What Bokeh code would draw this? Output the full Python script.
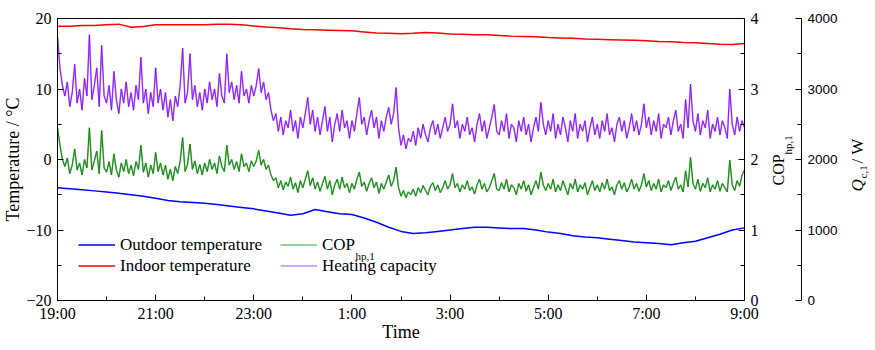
from math import pi
from bokeh.plotting import figure
from bokeh.layouts import row
from bokeh.models import Range1d, LinearAxis, FixedTicker, Legend, LegendItem, Label
from bokeh.embed import file_html
from bokeh.resources import INLINE

# ---------------- data ----------------
tick_hours = [0, 2, 4, 6, 8, 10, 12, 14]
minor_hours = [1, 3, 5, 7, 9, 11, 13]
time_labels = ["19:00", "21:00", "23:00", "1:00", "3:00", "5:00", "7:00", "9:00"]

temp_ticks = [-20, -10, 0, 10, 20]
temp_minor = [-15, -5, 5, 15]
cop_ticks = [0, 1, 2, 3, 4]
cop_minor = [0.5, 1.5, 2.5, 3.5]
q_ticks = [0, 1000, 2000, 3000, 4000]
q_minor = [500, 1500, 2500, 3500]

# temperatures every 15 min from 19:00 to 9:00 (°C)
temp_step_h = 0.25
outdoor = [-4.0, -4.15, -4.3, -4.45, -4.6, -4.8, -5.0, -5.2, -5.5, -5.8, -6.0, -6.1,
           -6.2, -6.4, -6.6, -6.8, -7.0, -7.3, -7.6, -7.9,
           -7.7, -7.1, -7.4, -7.7, -7.8, -8.3, -8.9, -9.6,
           -10.2, -10.5, -10.4, -10.2, -10.0, -9.8, -9.6, -9.6,
           -9.7, -9.8, -9.8, -10.0, -10.3, -10.5, -10.8, -11.0,
           -11.1, -11.3, -11.5, -11.7, -11.8, -11.9, -12.1, -11.8,
           -11.6, -11.1, -10.6, -10.0, -9.7]
indoor = [18.9, 18.9, 19.0, 19.0, 19.1, 19.2, 18.75, 18.85, 19.1, 19.1, 19.1, 19.1,
          19.1, 19.2, 19.2, 19.1, 18.95, 18.8, 18.7, 18.55,
          18.45, 18.4, 18.35, 18.3, 18.25, 18.1, 17.95, 17.9,
          17.85, 17.9, 18.0, 17.95, 17.8, 17.75, 17.7, 17.7,
          17.6, 17.5, 17.45, 17.4, 17.3, 17.25, 17.2, 17.1,
          17.05, 17.0, 16.95, 16.9, 16.85, 16.75, 16.7, 16.6,
          16.55, 16.45, 16.35, 16.3, 16.45]

# COP and heating capacity every 3 min from 19:00 to 9:00 (one row per hour)
fast_step_h = 3 / 60
cop = [
    2.45, 2.20, 2.00, 1.90, 2.02, 1.80, 1.92, 2.15, 1.85, 1.95, 1.78, 2.00, 1.88, 2.45, 1.85, 1.98, 2.12, 1.80, 2.41, 1.88,
    1.82, 1.97, 1.78, 2.08, 1.85, 1.75, 1.95, 1.83, 2.00, 1.80, 1.92, 1.77, 1.97, 1.86, 2.20, 1.82, 1.95, 1.75, 1.92, 1.80,
    2.10, 1.83, 1.95, 1.78, 1.92, 1.72, 1.86, 1.70, 1.90, 1.80, 1.98, 2.31, 1.83, 1.93, 2.22, 1.86, 1.98, 1.80, 1.93, 1.78,
    1.95, 1.83, 2.00, 1.86, 1.95, 1.80, 2.05, 1.90, 1.83, 2.20, 1.92, 2.00, 1.86, 1.97, 1.83, 2.08, 1.90, 1.95, 1.83, 1.98,
    1.90, 1.98, 2.13, 1.92, 2.00, 1.86, 1.92, 1.78, 1.70, 1.74, 1.60, 1.70, 1.57, 1.68, 1.62, 1.75, 1.58, 1.67, 1.53, 1.70,
    1.60, 1.72, 1.84, 1.63, 1.74, 1.58, 1.68, 1.55, 1.66, 1.76, 1.58, 1.70, 1.50, 1.64, 1.72, 1.58, 1.75, 1.60, 1.66, 1.53,
    1.66, 1.58, 1.72, 1.82, 1.62, 1.68, 1.55, 1.66, 1.74, 1.60, 1.68, 1.52, 1.66, 1.58, 1.68, 1.78, 1.62, 1.70, 1.89, 1.60,
    1.48, 1.56, 1.46, 1.54, 1.50, 1.58, 1.48, 1.60, 1.53, 1.63, 1.56, 1.50, 1.62, 1.67, 1.56, 1.64, 1.53, 1.60, 1.70, 1.58,
    1.64, 1.80, 1.60, 1.66, 1.54, 1.64, 1.58, 1.70, 1.56, 1.61, 1.51, 1.64, 1.72, 1.58, 1.66, 1.54, 1.60, 1.70, 1.80, 1.58,
    1.56, 1.67, 1.58, 1.72, 1.54, 1.64, 1.60, 1.50, 1.66, 1.58, 1.70, 1.55, 1.64, 1.50, 1.60, 1.70, 1.58, 1.82, 1.64, 1.56,
    1.66, 1.58, 1.72, 1.54, 1.64, 1.56, 1.70, 1.60, 1.50, 1.66, 1.58, 1.72, 1.54, 1.64, 1.58, 1.67, 1.50, 1.60, 1.70, 1.56,
    1.64, 1.54, 1.67, 1.58, 1.72, 1.56, 1.61, 1.50, 1.64, 1.70, 1.58, 1.67, 1.54, 1.61, 1.72, 1.58, 1.66, 1.55, 1.64, 1.80,
    1.61, 1.70, 1.56, 1.66, 1.58, 1.72, 1.54, 1.64, 1.60, 1.70, 1.56, 1.66, 1.75, 1.58, 1.64, 1.54, 1.84, 1.61, 2.03, 1.66,
    1.58, 1.72, 1.55, 1.66, 1.60, 1.74, 1.54, 1.64, 1.58, 1.70, 1.55, 1.66, 1.60, 1.54, 1.99, 1.64, 1.56, 1.70, 1.62, 1.78,
    1.85]
heating = [
    3750, 3300, 3050, 2900, 3100, 2750, 2950, 3350, 2800, 3000, 2700, 3150, 2900, 3770, 2850, 3050, 3300, 2750, 3620, 2900,
    2800, 3050, 2700, 3250, 2850, 2650, 3000, 2800, 3100, 2750, 2950, 2700, 3050, 2850, 3450, 2800, 3000, 2650, 2950, 2750,
    3300, 2800, 3000, 2700, 2950, 2600, 2850, 2550, 2900, 2750, 3050, 3580, 2800, 2950, 3500, 2850, 3050, 2750, 2950, 2700,
    3000, 2800, 3100, 2850, 3000, 2750, 3220, 2900, 2800, 3500, 2950, 3100, 2850, 3050, 2800, 3250, 2900, 3000, 2800, 3050,
    2900, 3050, 3290, 2950, 3100, 2850, 2950, 2700, 2550, 2650, 2400, 2600, 2350, 2550, 2450, 2700, 2400, 2550, 2300, 2600,
    2450, 2650, 2880, 2500, 2700, 2400, 2600, 2350, 2550, 2750, 2400, 2600, 2250, 2500, 2650, 2400, 2700, 2450, 2550, 2300,
    2550, 2400, 2650, 2880, 2500, 2600, 2350, 2550, 2700, 2450, 2600, 2300, 2550, 2400, 2600, 2740, 2500, 2650, 3020, 2450,
    2200, 2350, 2150, 2300, 2250, 2400, 2200, 2450, 2300, 2500, 2350, 2250, 2450, 2550, 2350, 2500, 2300, 2450, 2600, 2400,
    2500, 2790, 2450, 2550, 2300, 2500, 2400, 2600, 2350, 2450, 2250, 2500, 2650, 2400, 2550, 2300, 2450, 2600, 2780, 2400,
    2350, 2550, 2400, 2650, 2300, 2500, 2450, 2250, 2550, 2400, 2600, 2350, 2500, 2250, 2450, 2600, 2400, 2810, 2500, 2350,
    2550, 2400, 2650, 2300, 2500, 2350, 2600, 2450, 2250, 2550, 2400, 2650, 2300, 2500, 2400, 2550, 2250, 2450, 2600, 2350,
    2500, 2300, 2550, 2400, 2650, 2350, 2450, 2250, 2500, 2600, 2400, 2550, 2300, 2450, 2650, 2400, 2550, 2350, 2500, 2790,
    2450, 2600, 2350, 2550, 2400, 2650, 2300, 2500, 2450, 2600, 2350, 2550, 2700, 2400, 2500, 2300, 2850, 2450, 3070, 2550,
    2400, 2650, 2350, 2550, 2450, 2700, 2300, 2500, 2400, 2600, 2350, 2550, 2450, 2300, 3000, 2500, 2350, 2600, 2400, 2550,
    2450]

t_temp = [i * temp_step_h for i in range(len(outdoor))]
t_cop = [i * fast_step_h for i in range(len(cop))]
t_heat = [i * fast_step_h for i in range(len(heating))]

SERIF = "Liberation Serif"
SANS = "Liberation Sans"
TOP, BOTTOM = 18, 50


def base_fig(width, left, right, y_range):
    f = figure(width=width, height=350, output_backend="svg", toolbar_location=None,
               x_range=Range1d(0, 14), y_range=y_range,
               min_border_left=left, min_border_right=right,
               min_border_top=TOP, min_border_bottom=BOTTOM)
    f.xgrid.visible = False
    f.ygrid.visible = False
    f.background_fill_color = "white"
    f.border_fill_color = "white"
    return f


def style(ax, font, size):
    ax.axis_line_color = "black"
    ax.major_tick_line_color = "black"
    ax.minor_tick_line_color = "black"
    ax.major_tick_in = 6
    ax.major_tick_out = 0
    ax.minor_tick_in = 4
    ax.minor_tick_out = 0
    ax.major_label_text_font = font
    ax.major_label_text_font_size = size
    ax.major_label_text_color = "black"
    ax.axis_label_text_font = SERIF
    ax.axis_label_text_font_size = "18px"
    ax.axis_label_text_font_style = "normal"
    ax.axis_label_text_color = "black"


def lab(fig, text, x, y, size, style="normal", angle=0.0):
    fig.add_layout(Label(x=x, y=y, x_units="screen", y_units="screen", text=text,
                         angle=angle, text_align="left", text_baseline="alphabetic",
                         text_font=SERIF, text_font_size=size, text_font_style=style,
                         text_color="black"))


# ---------------- main plot ----------------
p = base_fig(761, 57, 15, Range1d(-20, 20))
p.extra_y_ranges = {"cop": Range1d(0, 4), "q": Range1d(0, 4000)}
p.outline_line_color = "black"
p.outline_line_width = 1

xa = p.xaxis[0]
xa.ticker = FixedTicker(ticks=tick_hours, minor_ticks=minor_hours)
xa.major_label_overrides = {h: t for h, t in zip(tick_hours, time_labels)}
style(xa, SERIF, "16px")
xa.axis_label = "Time"
xa.major_label_standoff = 4
xa.axis_label_standoff = -3

ya = p.yaxis[0]
ya.ticker = FixedTicker(ticks=temp_ticks, minor_ticks=temp_minor)
style(ya, SERIF, "16px")
ya.axis_label = "Temperature / °C"
ya.major_label_standoff = 6
ya.axis_label_standoff = 0

cop_axis = LinearAxis(y_range_name="cop", ticker=FixedTicker(ticks=cop_ticks, minor_ticks=cop_minor))
style(cop_axis, SERIF, "16px")
cop_axis.major_label_standoff = 6
p.add_layout(cop_axis, "right")

r_heat_l = p.line(t_heat, heating, y_range_name="q", line_color="#c08cff", line_width=1.6)
r_heat = p.line(t_heat, heating, y_range_name="q", line_color="#7f00ff", line_width=0.8)
r_cop_l = p.line(t_cop, cop, y_range_name="cop", line_color="#78c078", line_width=1.6)
r_cop = p.line(t_cop, cop, y_range_name="cop", line_color="#007a00", line_width=0.8)
r_out = p.line(t_temp, outdoor, line_color="#0000ff", line_width=1.5)
r_in = p.line(t_temp, indoor, line_color="#ff0000", line_width=1.5)


def mk_legend(items, x, y):
    lg = Legend(items=items, location=(x, y), orientation="vertical",
                padding=0, margin=0, spacing=0,
                glyph_width=37, glyph_height=21, label_height=21, label_standoff=5,
                label_text_font=SERIF, label_text_font_size="17px", label_text_color="black",
                border_line_alpha=0, background_fill_alpha=0)
    p.add_layout(lg, "center")


mk_legend([LegendItem(label="Outdoor temperature", renderers=[r_out]),
           LegendItem(label="Indoor temperature", renderers=[r_in])], 21, 24)
mk_legend([LegendItem(label="COP", renderers=[r_cop_l]),
           LegendItem(label="Heating capacity", renderers=[r_heat_l])], 223, 24)
lab(p, "hp,1", 298, 45, "11px")

# ---------------- COP title + Q axis ----------------
ps = base_fig(79, 0, 38, Range1d(0, 4000))
ps.outline_line_color = None
ps.xaxis.visible = False
ps.yaxis.visible = False
q_axis = LinearAxis(ticker=FixedTicker(ticks=q_ticks, minor_ticks=q_minor))
style(q_axis, SANS, "13.5px")
q_axis.major_label_standoff = 6
ps.add_layout(q_axis, "right")
lab(ps, "COP", 17, 115, "16px", angle=pi / 2)
lab(ps, "hp,1", 26, 146, "11px", angle=pi / 2)

# ---------------- Q title ----------------
pt = base_fig(35, 0, 0, Range1d(0, 4000))
pt.outline_line_color = None
pt.xaxis.visible = False
pt.yaxis.visible = False
lab(pt, "Q", 17, 109, "17px", style="italic", angle=pi / 2)
lab(pt, "c,1", 22, 122, "11px", angle=pi / 2)
lab(pt, " / W", 17, 137, "17px", angle=pi / 2)

layout = row(p, ps, pt, spacing=0)
open("out.html", "w").write(file_html(layout, INLINE))
